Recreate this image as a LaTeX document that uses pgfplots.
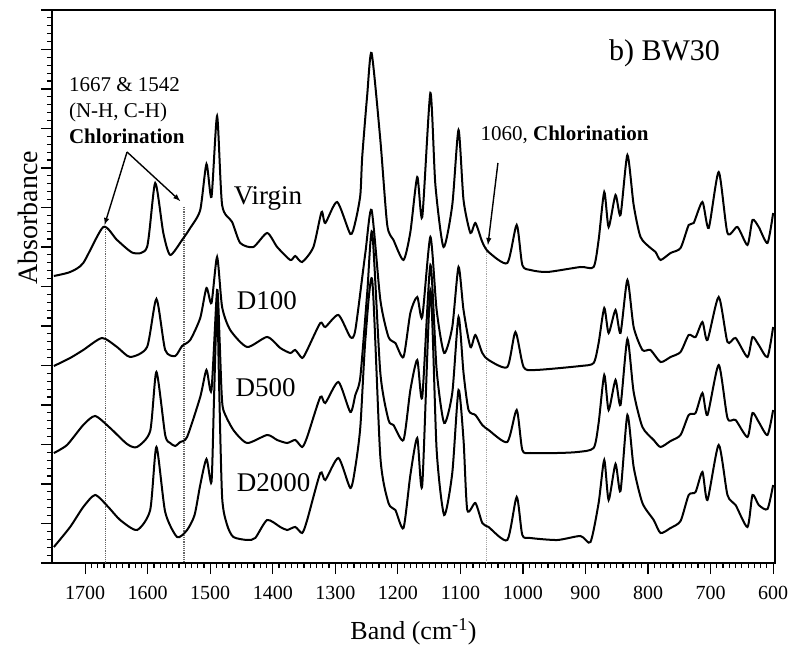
\documentclass[border=0pt]{standalone}
\usepackage{fontspec}
\setmainfont{Liberation Serif}
\usepackage{pgfplots}
\usepackage{pgfplotstable}
\pgfplotsset{compat=1.18}

\pgfplotstableread{
x y
1750 287
1724 291
1703 300
1671 336
1649 323
1623 310
1601 316
1588 380
1575 330
1564 308
1545 323
1532 335
1516 353
1506 399
1498 366
1489 447
1481 358
1465 341
1452 320
1431 316
1409 330
1393 316
1372 303
1364 307
1353 301
1335 316
1322 351
1316 340
1297 361
1276 329
1268 341
1260 368
1257 406
1249 468
1242 510
1228 423
1217 338
1207 323
1191 303
1180 331
1169 386
1161 346
1148 470
1140 378
1127 316
1113 358
1103 433
1095 363
1084 330
1076 340
1065 321
1055 311
1025 300
1010 338
1001 298
988 293
961 291
908 296
887 296
879 323
870 371
863 336
852 368
844 348
833 408
823 358
812 326
796 315
788 311
780 303
764 310
748 315
735 338
727 340
713 361
703 335
687 391
673 330
657 336
641 318
633 343
623 336
609 320
600 350
}\virgin

\pgfplotstableread{
x y
1750 197
1724 205
1703 213
1673 225
1649 216
1628 206
1601 216
1586 264
1572 213
1556 207
1545 217
1532 223
1516 245
1506 275
1498 260
1489 306
1481 256
1468 233
1441 216
1409 226
1388 215
1372 210
1364 213
1353 205
1345 213
1324 240
1316 236
1295 248
1276 226
1268 233
1252 310
1242 353
1228 263
1215 226
1204 220
1191 206
1180 250
1169 266
1161 246
1148 326
1138 253
1126 210
1113 236
1103 296
1095 253
1084 216
1076 228
1065 210
1055 203
1025 196
1012 231
999 196
980 193
908 197
887 200
879 220
870 255
863 230
852 253
844 230
833 283
823 236
809 213
796 213
780 201
764 206
748 211
735 228
724 226
713 241
705 223
687 266
673 221
660 225
641 206
633 226
623 218
609 206
600 236
}\dhundred

\pgfplotstableread{
x y
1750 110
1729 118
1703 138
1684 147
1660 135
1633 119
1617 116
1596 132
1586 191
1572 128
1564 120
1556 117
1548 121
1537 126
1516 166
1506 193
1498 173
1489 273
1485 223
1482 173
1479 153
1463 133
1441 120
1409 128
1393 123
1377 120
1364 123
1353 116
1345 126
1324 166
1316 160
1295 181
1276 151
1268 168
1260 186
1249 270
1241 331
1228 190
1215 143
1207 138
1191 123
1180 173
1169 203
1161 166
1148 298
1138 193
1126 140
1113 170
1103 246
1095 190
1087 153
1076 148
1065 138
1055 133
1025 121
1010 153
1001 113
988 110
945 110
913 111
887 115
879 140
870 188
863 153
852 183
844 158
833 224
823 171
809 136
791 123
780 116
764 122
748 128
735 148
724 150
713 170
705 148
687 198
673 145
660 143
641 126
633 150
623 141
609 128
600 153
}\dfive

\pgfplotstableread{
x y
1750 16
1724 36
1703 56
1684 68
1663 56
1644 43
1617 33
1596 53
1586 116
1572 51
1553 26
1537 33
1525 48
1516 78
1506 104
1498 81
1494 163
1489 263
1486 183
1481 66
1473 38
1463 26
1441 23
1428 25
1409 43
1388 36
1377 33
1364 36
1353 30
1345 43
1324 90
1316 83
1295 105
1276 75
1268 96
1260 136
1252 223
1241 283
1228 106
1215 60
1204 53
1191 35
1180 88
1169 125
1161 78
1148 273
1138 113
1126 48
1113 90
1103 173
1095 123
1089 53
1076 60
1065 40
1055 36
1025 23
1010 66
1001 28
988 25
945 23
908 27
892 21
879 60
870 103
863 63
852 99
844 72
833 148
823 96
809 60
791 43
780 30
764 35
748 42
735 68
724 71
713 91
705 63
687 118
673 68
660 58
641 36
633 68
623 58
609 54
600 78
}\dtwo

\begin{document}
\begin{tikzpicture}
\begin{axis}[
  scale only axis,
  width=723pt, height=553pt,
  x dir=reverse,
  xmin=597, xmax=1753,
  ymin=0, ymax=553,
  xtick={600,700,...,1700},
  minor x tick num=9,
  ytick={0,39.5,79,118.5,158,197.5,237,276.5,316,355.5,395,434.5,474,513.5,553},
  minor y tick num=4,
  yticklabels={},
  xtick pos=bottom,
  ytick pos=left,
  tick align=outside,
  major tick length=11pt,
  minor tick length=5pt,
  every tick/.style={black, line width=1.2pt},
  axis line style={line width=1.6pt},
  /pgf/number format/assume math mode=true,
  /pgf/number format/set thousands separator={},
  tick label style={font=\fontsize{20}{20}\selectfont},
  xticklabel style={yshift=-9pt},
  xlabel={Band (cm\textsuperscript{-1})},
  ylabel={Absorbance},
  xlabel style={font=\fontsize{26}{26}\selectfont, at={(axis description cs:0.5,-0.125)}, anchor=center},
  ylabel style={font=\fontsize{28}{28}\selectfont, at={(axis description cs:-0.033,0.624)}, anchor=center, rotate=0},
  clip=false,
]
\draw[gray!80!black, densely dotted, line width=1.2pt] (axis cs:1667,336) -- (axis cs:1667,0);
\draw[gray!80!black, densely dotted, line width=1.2pt] (axis cs:1542,356) -- (axis cs:1542,0);
\draw[gray!70, densely dotted, line width=1.2pt] (axis cs:1058,316) -- (axis cs:1058,0);

\addplot[black, line width=2pt, smooth, tension=0.4] table {\virgin};
\addplot[black, line width=2pt, smooth, tension=0.4] table {\dhundred};
\addplot[black, line width=2pt, smooth, tension=0.4] table {\dfive};
\addplot[black, line width=2pt, smooth, tension=0.4] table {\dtwo};

\node[anchor=base west, font=\fontsize{27}{27}\selectfont] at (axis cs:1468,358) {Virgin};
\node[anchor=base west, font=\fontsize{27}{27}\selectfont] at (axis cs:1463,253) {D100};
\node[anchor=base west, font=\fontsize{27}{27}\selectfont] at (axis cs:1465,166) {D500};
\node[anchor=base west, font=\fontsize{27}{27}\selectfont] at (axis cs:1463,71) {D2000};
\node[anchor=base west, font=\fontsize{30}{30}\selectfont] at (axis cs:868,502) {b) BW30};

\node[anchor=north west, align=left, inner sep=0pt, font=\fontsize{21}{26}\selectfont] at (axis cs:1726,486) {1667 \& 1542\\(N-H, C-H)\\\textbf{Chlorination}};
\node[anchor=base west, inner sep=0pt, font=\fontsize{21}{21}\selectfont] at (axis cs:1068,422) {1060, \textbf{Chlorination}};

\draw[-latex, line width=1.4pt] (axis cs:1633,411) -- (axis cs:1669,338);
\draw[-latex, line width=1.4pt] (axis cs:1633,411) -- (axis cs:1548,362);
\draw[-latex, line width=1.4pt] (axis cs:1040,400) -- (axis cs:1056,318);
\end{axis}
\pgfresetboundingbox
\useasboundingbox ([xshift=-52pt,yshift=-89pt]current axis.south west) rectangle ([xshift=16pt,yshift=10pt]current axis.north east);
\end{tikzpicture}
\end{document}
